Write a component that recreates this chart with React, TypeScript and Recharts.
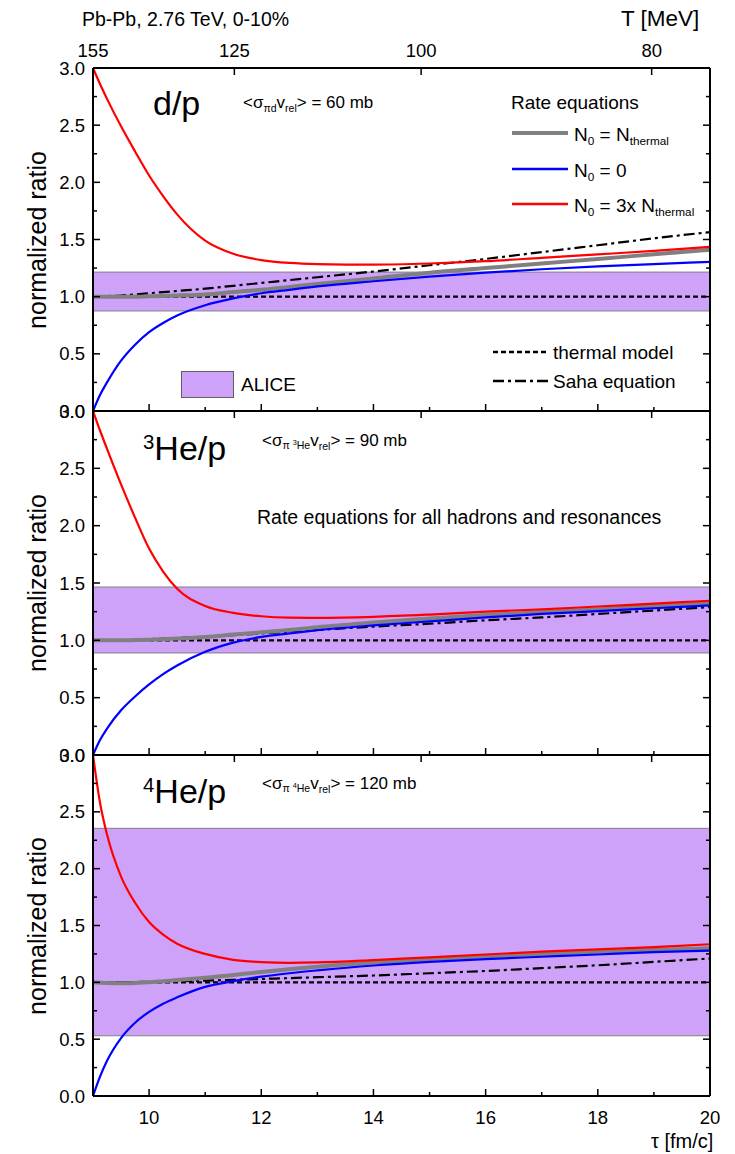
import React from "react";
import { LineChart, Line, XAxis, YAxis, ReferenceArea } from "recharts";

const FONT = '"Liberation Sans", Arial, Helvetica, sans-serif';

// proper time grid, fm/c
const tau = [9, 9.125, 9.25, 9.5, 9.75, 10, 10.25, 10.5, 11, 11.5, 12, 12.5, 13, 14, 15, 16, 17, 18, 19, 20];

// d/p
const dpRed = [3.0, 2.86, 2.73, 2.49, 2.27, 2.06, 1.88, 1.72, 1.49, 1.375, 1.32, 1.295, 1.285, 1.28, 1.29, 1.31, 1.34, 1.37, 1.4, 1.435];
const dpBlue = [0, 0.14, 0.25, 0.44, 0.58, 0.69, 0.77, 0.835, 0.925, 0.985, 1.03, 1.06, 1.09, 1.135, 1.175, 1.21, 1.24, 1.265, 1.285, 1.305];
const dpGray = [1.0, 1.0, 1.0, 1.0, 1.0, 1.003, 1.006, 1.01, 1.02, 1.04, 1.06, 1.085, 1.11, 1.16, 1.21, 1.25, 1.29, 1.33, 1.37, 1.41];
const dpSaha = [1.0, 1.002, 1.005, 1.01, 1.02, 1.03, 1.04, 1.05, 1.07, 1.095, 1.12, 1.145, 1.17, 1.22, 1.275, 1.33, 1.39, 1.45, 1.51, 1.565];

// 3He/p
const he3Red = [3.0, 2.83, 2.67, 2.36, 2.07, 1.8, 1.6, 1.45, 1.3, 1.24, 1.21, 1.198, 1.196, 1.205, 1.225, 1.25, 1.27, 1.295, 1.32, 1.345];
const he3Blue = [0, 0.13, 0.23, 0.39, 0.51, 0.615, 0.705, 0.78, 0.9, 0.98, 1.03, 1.06, 1.088, 1.13, 1.165, 1.2, 1.23, 1.255, 1.28, 1.305];
const he3Gray = [1.0, 1.0, 1.0, 1.0, 1.002, 1.005, 1.01, 1.015, 1.03, 1.05, 1.07, 1.09, 1.115, 1.155, 1.19, 1.22, 1.245, 1.27, 1.3, 1.325];
const he3Saha = [1.0, 1.0, 1.0, 1.002, 1.005, 1.01, 1.015, 1.02, 1.03, 1.045, 1.06, 1.075, 1.09, 1.12, 1.145, 1.175, 1.2, 1.23, 1.26, 1.29];

// 4He/p
const he4Red = [3.0, 2.58, 2.3, 1.93, 1.7, 1.53, 1.42, 1.34, 1.25, 1.198, 1.178, 1.172, 1.175, 1.195, 1.22, 1.245, 1.27, 1.29, 1.31, 1.335];
const he4Blue = [0, 0.17, 0.31, 0.51, 0.645, 0.74, 0.812, 0.868, 0.96, 1.01, 1.05, 1.08, 1.105, 1.148, 1.18, 1.205, 1.225, 1.245, 1.265, 1.28];
const he4Gray = [1.0, 0.997, 0.995, 0.993, 0.995, 1.0, 1.01, 1.02, 1.04, 1.065, 1.09, 1.115, 1.138, 1.175, 1.205, 1.23, 1.25, 1.27, 1.285, 1.3];
const he4Saha = [1.0, 1.0, 1.0, 1.0, 1.002, 1.005, 1.007, 1.01, 1.015, 1.022, 1.03, 1.037, 1.045, 1.06, 1.08, 1.1, 1.125, 1.15, 1.18, 1.21];

// thermal model reference (normalized)
const thermal = [1, 1, 1, 1, 1, 1, 1, 1, 1, 1, 1, 1, 1, 1, 1, 1, 1, 1, 1, 1];

// ALICE bands [low, high]
const aliceDp = [0.875, 1.215];
const aliceHe3 = [0.89, 1.465];
const aliceHe4 = [0.53, 2.355];

const tauTicks = [9, 10, 11, 12, 13, 14, 15, 16, 17, 18, 19, 20];
const tempTickPos = [9, 11.52, 14.85, 18.96];
const tempTickLabels = ["155", "125", "100", "80"];
const yTicks = [0, 0.25, 0.5, 0.75, 1, 1.25, 1.5, 1.75, 2, 2.25, 2.5, 2.75, 3];

function rows(red: number[], blue: number[], gray: number[], saha: number[]) {
  return tau.map((t, i) => ({ tau: t, red: red[i], blue: blue[i], gray: gray[i], saha: saha[i], thermal: thermal[i] }));
}

const AX = { stroke: "#000", strokeWidth: 2 };

function BottomTick(props: any) {
  const { x, y, payload, showLabel } = props;
  const v = payload.value;
  const major = v % 2 === 0;
  return (
    <g>
      <line x1={x} x2={x} y1={y} y2={y - (major ? 7 : 4)} stroke="#000" strokeWidth={1.5} />
      {showLabel && major && (
        <text x={x} y={y + 28} textAnchor="middle" fontSize={18.5} fontFamily={FONT} fill="#000">{v}</text>
      )}
    </g>
  );
}

function TopTick(props: any) {
  const { x, y, payload, index, showLabel } = props;
  return (
    <g>
      <line x1={x} x2={x} y1={y} y2={y + 7} stroke="#000" strokeWidth={1.5} />
      {showLabel && (
        <text x={x} y={y - 11} textAnchor="middle" fontSize={18.5} fontFamily={FONT} fill="#000">
          {tempTickLabels[index] ?? payload.value}
        </text>
      )}
    </g>
  );
}

function LeftTick(props: any) {
  const { x, y, payload } = props;
  const v = payload.value;
  const major = Math.abs(v * 2 - Math.round(v * 2)) < 1e-6;
  return (
    <g>
      <line x1={x} x2={x + (major ? 7 : 4)} y1={y} y2={y} stroke="#000" strokeWidth={1.5} />
      {major && (
        <text x={x - 8} y={y} dy="0.36em" textAnchor="end" fontSize={18.5} fontFamily={FONT} fill="#000">
          {v.toFixed(1)}
        </text>
      )}
    </g>
  );
}

function RightTick(props: any) {
  const { x, y, payload } = props;
  const v = payload.value;
  const major = Math.abs(v * 2 - Math.round(v * 2)) < 1e-6;
  return <line x1={x} x2={x - (major ? 7 : 4)} y1={y} y2={y} stroke="#000" strokeWidth={1.5} />;
}

interface PanelProps {
  data: any[];
  band: number[];
  plotTop: number;
  plotBottom: number;
  padTop: number;
  padBottom: number;
  topLabels: boolean;
  bottomLabels: boolean;
}

function Panel({ data, band, plotTop, plotBottom, padTop, padBottom, topLabels, bottomLabels }: PanelProps) {
  const h = plotBottom - plotTop + padTop + padBottom;
  return (
    <div style={{ position: "absolute", left: 0, top: plotTop - padTop }}>
      <LineChart width={735} height={h} data={data} margin={{ top: padTop - 1, right: 24, bottom: padBottom - 1, left: 92 }}>
        <XAxis
          xAxisId="bottom"
          dataKey="tau"
          type="number"
          domain={[9, 20]}
          ticks={tauTicks}
          interval={0}
          height={1}
          tickSize={0}
          tickMargin={0}
          tickLine={false}
          axisLine={AX}
          tick={(p: any) => <BottomTick {...p} showLabel={bottomLabels} />}
        />
        <XAxis
          xAxisId="top"
          orientation="top"
          dataKey="tau"
          type="number"
          domain={[9, 20]}
          ticks={tempTickPos}
          interval={0}
          height={1}
          tickSize={0}
          tickMargin={0}
          tickLine={false}
          axisLine={AX}
          tick={(p: any) => <TopTick {...p} showLabel={topLabels} />}
        />
        <YAxis
          yAxisId="left"
          type="number"
          domain={[0, 3]}
          ticks={yTicks}
          interval={0}
          width={1}
          tickSize={0}
          tickMargin={0}
          tickLine={false}
          axisLine={AX}
          tick={(p: any) => <LeftTick {...p} />}
        />
        <YAxis
          yAxisId="right"
          orientation="right"
          type="number"
          domain={[0, 3]}
          ticks={yTicks}
          interval={0}
          width={1}
          tickSize={0}
          tickMargin={0}
          tickLine={false}
          axisLine={AX}
          tick={(p: any) => <RightTick {...p} />}
        />
        <ReferenceArea
          xAxisId="bottom"
          yAxisId="left"
          y1={band[0]}
          y2={band[1]}
          fill="#cfa2fa"
          fillOpacity={1}
          stroke="#808080"
          strokeWidth={1}
          ifOverflow="visible"
        />
        <Line xAxisId="top" yAxisId="right" dataKey="thermal" stroke="#000" strokeWidth={2.2} strokeDasharray="5 3" dot={false} isAnimationActive={false} />
        <Line xAxisId="bottom" yAxisId="left" type="monotone" dataKey="saha" stroke="#000" strokeWidth={2.2} strokeDasharray="11 4 3 4" dot={false} isAnimationActive={false} />
        <Line xAxisId="bottom" yAxisId="left" type="monotone" dataKey="gray" stroke="#808080" strokeWidth={4} dot={false} isAnimationActive={false} />
        <Line xAxisId="bottom" yAxisId="left" type="monotone" dataKey="blue" stroke="#0000ff" strokeWidth={2.2} dot={false} isAnimationActive={false} />
        <Line xAxisId="bottom" yAxisId="left" type="monotone" dataKey="red" stroke="#ff0000" strokeWidth={2.2} dot={false} isAnimationActive={false} />
      </LineChart>
    </div>
  );
}

function T({ left, base, size = 19, children, style }: { left: number; base: number; size?: number; children: React.ReactNode; style?: React.CSSProperties }) {
  return (
    <div style={{ position: "absolute", left, top: base - 0.85 * size, fontSize: size, lineHeight: 1, whiteSpace: "nowrap", color: "#000", ...style }}>
      {children}
    </div>
  );
}

const sub: React.CSSProperties = { fontSize: "0.62em", verticalAlign: "-0.35em", lineHeight: 0 };
const sup: React.CSSProperties = { fontSize: "0.6em", verticalAlign: "0.55em", lineHeight: 0 };

function YLabel({ center }: { center: number }) {
  return (
    <div
      style={{
        position: "absolute",
        left: 37,
        top: center,
        transform: "translate(-50%, -50%) rotate(-90deg)",
        fontSize: 25,
        lineHeight: 1,
        whiteSpace: "nowrap",
      }}
    >
      normalized ratio
    </div>
  );
}

export default function App() {
  return (
    <div style={{ position: "absolute", left: 0, top: 0, width: 735, height: 1154, background: "#fff", fontFamily: FONT, overflow: "hidden" }}>
      <Panel data={rows(dpRed, dpBlue, dpGray, dpSaha)} band={aliceDp} plotTop={68} plotBottom={411} padTop={68} padBottom={14} topLabels bottomLabels={false} />
      <Panel data={rows(he3Red, he3Blue, he3Gray, he3Saha)} band={aliceHe3} plotTop={411} plotBottom={755} padTop={14} padBottom={14} topLabels={false} bottomLabels={false} />
      <Panel data={rows(he4Red, he4Blue, he4Gray, he4Saha)} band={aliceHe4} plotTop={755} plotBottom={1096} padTop={14} padBottom={58} topLabels={false} bottomLabels />

      <T left={82} base={27} size={19.5}>Pb-Pb, 2.76 TeV, 0-10%</T>
      <T left={621} base={27} size={22.5}>T [MeV]</T>
      <T left={651} base={1148} size={20}>τ [fm/c]</T>

      <YLabel center={240} />
      <YLabel center={583} />
      <YLabel center={926} />

      {/* panel 1 */}
      <T left={153} base={115} size={34}>d/p</T>
      <T left={243} base={108} size={17}>
        &lt;σ<span style={sub}>πd</span>v<span style={sub}>rel</span>&gt; = 60 mb
      </T>
      <T left={511} base={109} size={19}>Rate equations</T>
      <T left={574} base={141} size={19}>N<span style={sub}>0</span> = N<span style={sub}>thermal</span></T>
      <T left={574} base={177} size={19}>N<span style={sub}>0</span> = 0</T>
      <T left={574} base={212} size={19}>N<span style={sub}>0</span> = 3x N<span style={sub}>thermal</span></T>
      <T left={553} base={359} size={19}>thermal model</T>
      <T left={553} base={388} size={19}>Saha equation</T>
      <T left={241} base={391} size={19}>ALICE</T>
      <div style={{ position: "absolute", left: 181, top: 371, width: 51, height: 25, background: "#cfa2fa", border: "1px solid #606060" }} />
      <svg style={{ position: "absolute", left: 0, top: 0 }} width={735} height={420}>
        <line x1={512} x2={568} y1={133} y2={133} stroke="#808080" strokeWidth={4} />
        <line x1={512} x2={568} y1={169} y2={169} stroke="#0000ff" strokeWidth={2.5} />
        <line x1={512} x2={568} y1={204} y2={204} stroke="#ff0000" strokeWidth={2.5} />
        <line x1={493} x2={549} y1={352} y2={352} stroke="#000" strokeWidth={2.5} strokeDasharray="5 3" />
        <line x1={493} x2={549} y1={381} y2={381} stroke="#000" strokeWidth={2.5} strokeDasharray="11 4 3 4" />
      </svg>

      {/* panel 2 */}
      <T left={143} base={460} size={34}>
        <span style={sup}>3</span>He/p
      </T>
      <T left={262} base={446} size={17}>
        &lt;σ<span style={sub}>π <span style={{ fontSize: "0.7em", verticalAlign: "0.5em" }}>3</span>He</span>v<span style={sub}>rel</span>&gt; = 90 mb
      </T>
      <T left={257} base={525} size={19.5}>Rate equations for all hadrons and resonances</T>

      {/* panel 3 */}
      <T left={143} base={803} size={34}>
        <span style={sup}>4</span>He/p
      </T>
      <T left={262} base={789} size={17}>
        &lt;σ<span style={sub}>π <span style={{ fontSize: "0.7em", verticalAlign: "0.5em" }}>4</span>He</span>v<span style={sub}>rel</span>&gt; = 120 mb
      </T>
    </div>
  );
}
